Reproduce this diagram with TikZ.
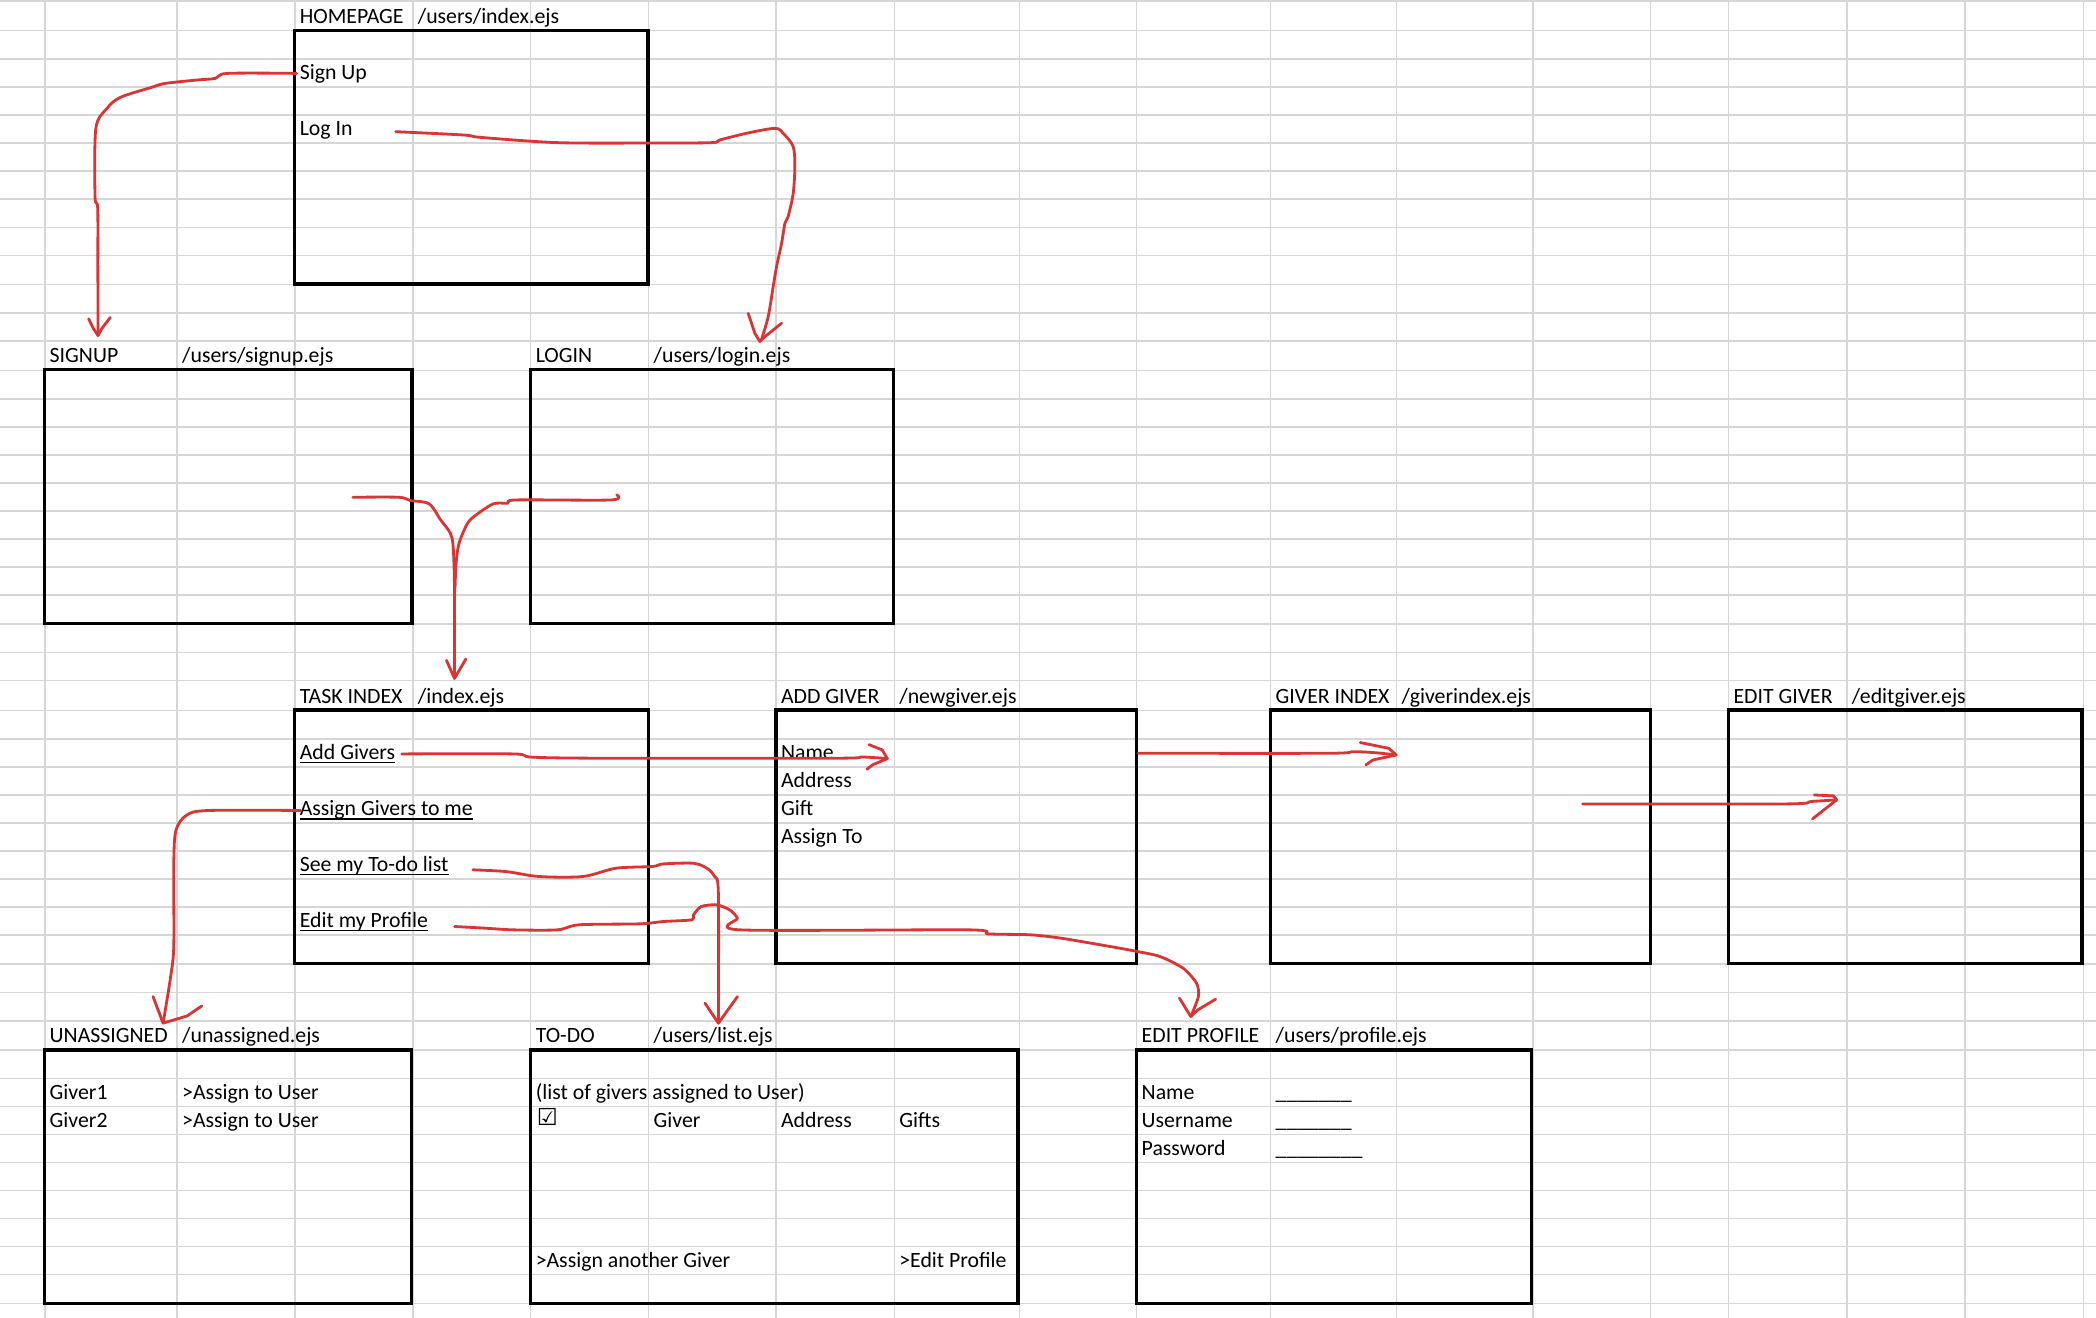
\documentclass[tikz,border=0pt]{standalone}
\usepackage{fontspec}
\setmainfont{Carlito}
\newfontfamily\symfont{DejaVu Sans}
\definecolor{gridgray}{RGB}{214,214,214}
\definecolor{penred}{RGB}{218,52,52}
\begin{document}
\begin{tikzpicture}[x=1pt,y=-1pt,
  pagebox/.style={draw=black, line width=2.4pt, anchor=north west, inner sep=0pt, outer sep=0pt},
  lbl/.style={anchor=base west, inner sep=0pt, outer sep=0pt, font=\fontsize{16.3}{19}\selectfont},
  ulink/.style={line width=1.1pt, black},
  conn/.style={draw=penred, line width=2.1pt, line cap=round, line join=round},
  tipstroke/.style={draw=penred, line width=2.1pt, line cap=round, line join=round}]
\useasboundingbox (0,0) rectangle (1568,985.9);
\fill[white] (0,0) rectangle (1568,985.9);
% grid
\foreach \gx in {33.5,132.5,220.6,308.8,397,485.2,580.5,669,762.5,850.3,950.5,1044.8,1146.8,1234.6,1293,1381.6,1470,1558.5}
  \draw[gridgray, line width=1.1pt] (\gx,0) -- (\gx,985.9);
\foreach \gy in {0.75,22.9,44.1,65.1,86,107,128,149,170,191,213,234,255,277.2,298.4,319.4,340.3,361.2,382.2,403.1,424.1,445,466.7,488.1,509.1,531.5,552.7,573.7,594.6,615.6,636.5,657.4,678.4,699.3,721,742.5,763.7,785.5,806.8,827.7,848.7,869.6,890.6,911.5,932.4,953.4,975.3}
  \draw[gridgray, line width=1.1pt] (0,\gy) -- (1568,\gy);

% page boxes
\node[pagebox, minimum width=264.2pt, minimum height=189.6pt] (home) at (220.6,22.9) {};
\node[pagebox, minimum width=275pt, minimum height=190pt] (signup) at (33.2,276.5) {};
\node[pagebox, minimum width=271.5pt, minimum height=190pt] (login) at (397,276.5) {};
\node[pagebox, minimum width=264.4pt, minimum height=189.6pt] (task) at (220.6,531.2) {};
\node[pagebox, minimum width=269.8pt, minimum height=189.6pt] (addg) at (580.5,531.2) {};
\node[pagebox, minimum width=284.3pt, minimum height=189.6pt] (gidx) at (950.2,531.2) {};
\node[pagebox, minimum width=264.5pt, minimum height=189.6pt] (editg) at (1293,531.2) {};
\node[pagebox, minimum width=274.6pt, minimum height=189.7pt] (unas) at (33.2,785.5) {};
\node[pagebox, minimum width=364.5pt, minimum height=189.7pt] (todo) at (397,785.5) {};
\node[pagebox, minimum width=295.5pt, minimum height=189.7pt] (prof) at (850.3,785.5) {};

% titles
\node[lbl] (tHome) at (224.3,17.3) {HOMEPAGE};
\node[lbl] (pHome) at (312.6,17.3) {/users/index.ejs};
\node[lbl] (tSignup) at (37.2,271.5) {SIGNUP};
\node[lbl] (pSignup) at (136.3,271.5) {/users/signup.ejs};
\node[lbl] (tLogin) at (400.8,271.5) {LOGIN};
\node[lbl] (pLogin) at (489,271.5) {/users/login.ejs};
\node[lbl] (tTask) at (224.3,526) {TASK INDEX};
\node[lbl] (pTask) at (312.6,526) {/index.ejs};
\node[lbl] (tAdd) at (584.3,526) {ADD GIVER};
\node[lbl] (pAdd) at (672.8,526) {/newgiver.ejs};
\node[lbl] (tGidx) at (954.3,526) {GIVER INDEX};
\node[lbl] (pGidx) at (1048.6,526) {/giverindex.ejs};
\node[lbl] (tEditg) at (1296.8,526) {EDIT GIVER};
\node[lbl] (pEditg) at (1385.4,526) {/editgiver.ejs};
\node[lbl] (tUnas) at (37.2,780) {UNASSIGNED};
\node[lbl] (pUnas) at (136.3,780) {/unassigned.ejs};
\node[lbl] (tTodo) at (400.8,780) {TO-DO};
\node[lbl] (pTodo) at (489,780) {/users/list.ejs};
\node[lbl] (tProf) at (854.1,780) {EDIT PROFILE};
\node[lbl] (pProf) at (954.3,780) {/users/profile.ejs};

% homepage content
\node[lbl] (signUp) at (224.3,59.5) {Sign Up};
\node[lbl] (logIn) at (224.3,101.5) {Log In};

% task index links
\node[lbl] (lnkAdd) at (224.3,568.2) {Add Givers};
\node[lbl] (lnkAssign) at (224.3,610.1) {Assign Givers to me};
\node[lbl] (lnkTodo) at (224.3,651.9) {See my To-do list};
\node[lbl] (lnkProf) at (224.3,693.8) {Edit my Profile};
\foreach \n in {lnkAdd,lnkAssign,lnkTodo,lnkProf}
  \draw[ulink] ([yshift=-2.4pt]\n.base west) -- ([yshift=-2.4pt]\n.base east);

% add giver fields
\node[lbl] (fName) at (584.3,568.2) {Name};
\node[lbl] (fAddr) at (584.3,589.1) {Address};
\node[lbl] (fGift) at (584.3,610.1) {Gift};
\node[lbl] (fAssign) at (584.3,631) {Assign To};

% unassigned
\node[lbl] (g1) at (37.2,822.2) {Giver1};
\node[lbl] (g1a) at (136.3,822.2) {>Assign to User};
\node[lbl] (g2) at (37.2,843.2) {Giver2};
\node[lbl] (g2a) at (136.3,843.2) {>Assign to User};

% to-do
\node[lbl] (listNote) at (400.8,822.2) {(list of givers assigned to User)};
\node[anchor=base west, inner sep=0pt, font=\symfont\fontsize{17.5}{20}\selectfont] (chk) at (401.5,842.2) {☑};
\node[lbl] (hGiver) at (489,843.2) {Giver};
\node[lbl] (hAddr) at (584.3,843.2) {Address};
\node[lbl] (hGifts) at (672.8,843.2) {Gifts};
\node[lbl] (assignAnother) at (400.8,947.9) {>Assign another Giver};
\node[lbl] (editProfLink) at (672.8,947.9) {>Edit Profile};

% edit profile
\node[lbl] (pfName) at (854.1,822.2) {Name};
\node[lbl] (pfUser) at (854.1,843.2) {Username};
\node[lbl] (pfPass) at (854.1,864.1) {Password};
\node[lbl] (uName) at (954.3,822.2) {\_\_\_\_\_\_\_};
\node[lbl] (uUser) at (954.3,843.2) {\_\_\_\_\_\_\_};
\node[lbl] (uPass) at (954.3,864.1) {\_\_\_\_\_\_\_\_};

% connector end points
\coordinate (a1s) at (221.9,54.9);   \coordinate (a1e) at (73.4,251);
\coordinate (a2s) at (296,98.5);     \coordinate (a2e) at (569.5,254.5);
\coordinate (a3s) at (264,372);      \coordinate (a3e) at (340,507.5);
\coordinate (a3t) at (461.4,370.2);  \coordinate (a3m) at (340.4,440);
\coordinate (a4s) at (300.6,564);    \coordinate (a4e) at (663.8,567.5);
\coordinate (a5s) at (225,606.3);    \coordinate (a5e) at (122,765.4);
\coordinate (a6s) at (353.8,650.7);  \coordinate (a6e) at (537.4,765.4);
\coordinate (a7s) at (340.1,693.1);  \coordinate (a7e) at (890.8,760.4);
\coordinate (a8s) at (851.3,563.5);  \coordinate (a8e) at (1044.5,564.8);
\coordinate (a9s) at (1183.9,601.4); \coordinate (a9e) at (1374,598.4);

% 1 Sign Up -> SIGNUP
\draw[conn] plot[smooth, tension=0.5] coordinates {(a1s) (170.2,54.9) (161.2,58.6) (146.8,59.9) (123.5,62.4) (113.5,65.3) (90.1,72.8) (80.1,81) (71.7,96) (71.1,147.1) (73.1,155.9) (73.2,200) (a1e)};
\draw[tipstroke] (66.3,238.5) -- (70,246) -- (a1e) -- (76,246) -- (82.5,237.5);

% 2 Log In -> LOGIN
\draw[conn] plot[smooth, tension=0.5] coordinates {(a2s) (347,101) (360,102.8) (417,106.7) (485,107) (532.3,106.7) (538.5,104.7) (558.5,99.7) (579.7,96) (585.9,99.7) (593.4,109.7) (594.6,124.7) (593.4,144.6) (589.6,162) (587.2,167) (584.7,182) (580.9,199.5) (578.4,214.4) (574.7,236.8) (a2e)};
\draw[tipstroke] (559.7,234.4) -- (564.7,249.3) -- (568.4,255.5) -- (572,252) -- (584.7,241.8);

% 3 SIGNUP / LOGIN -> TASK INDEX
\draw[conn] plot[smooth, tension=0.5] coordinates {(a3s) (298.3,372) (306.9,374.4) (321,376.9) (329.6,388.9) (336.9,398.9) (339,408.9) (340,440) (a3e)};
\draw[conn] plot[smooth, tension=0.5] coordinates {(a3t) (457.1,374) (386.3,374) (379.8,376.4) (369.1,376.9) (356.2,385.2) (349.8,391.4) (343.4,406.4) (341.2,421.3) (a3m)};
\draw[tipstroke] (334,494) -- (a3e) -- (348.5,493);

% 4 Add Givers -> ADD GIVER
\draw[conn] plot[smooth, tension=0.5] coordinates {(a4s) (384,564) (397.7,566.4) (449.9,567.2) (625.4,567.2) (645,566.3) (a4e)};
\draw[tipstroke] (650,557) -- (660,561) -- (a4e) -- (653,572) -- (648.5,575.5);

% 5 Assign Givers to me -> UNASSIGNED
\draw[conn] plot[smooth, tension=0.5] coordinates {(a5s) (156.4,606.3) (139.9,609.6) (131.7,620.8) (130,645.7) (130,708) (127.3,733) (a5e)};
\draw[tipstroke] (114.5,745.5) -- (a5e) -- (140,760) -- (151,752.5);

% 6 See my To-do list -> TO-DO
\draw[conn] plot[smooth, tension=0.5] coordinates {(a6s) (378.5,652) (403.2,655.7) (436.1,655.7) (460.8,649.5) (488.3,648.2) (495.9,646.3) (518.8,645.8) (528.8,649.5) (534.5,655.7) (537.4,668.2) (a6e)};
\draw[tipstroke] (527.4,750.5) -- (a6e) -- (551.7,745.5);

% 7 Edit my Profile -> EDIT PROFILE
\draw[conn] plot[smooth, tension=0.45] coordinates {(a7s) (362.1,694.3) (384,695.6) (417,695.6) (433.4,691.8) (478.7,691.1) (495.9,689.4) (517.3,688.1) (518.8,684.4) (524.5,678.2) (536,676.9) (546,680.7) (551.7,686.9) (553.7,695.6) (724.8,695.6) (739.1,698.6) (770.6,699.3) (793.5,701.8) (830.7,708.1) (850.8,711.8) (867.9,715.6) (885.1,724.3) (895.1,735.5) (896.5,745.5) (a7e)};
\draw[tipstroke] (882.3,746.7) -- (a7e) -- (896,755.5) -- (909.4,747.5);

% 8 ADD GIVER -> GIVER INDEX
\draw[conn] plot[smooth, tension=0.5] coordinates {(a8s) (993.8,563.5) (1012.8,562.3) (1030,563.2) (a8e)};
\draw[tipstroke] (1017.6,555.5) -- (1039,559.8) -- (a8e) -- (1027.1,568.5) -- (1021.8,572.2);

% 9 GIVER INDEX -> EDIT GIVER
\draw[conn] plot[smooth, tension=0.5] coordinates {(a9s) (1335.9,601.4) (1355,599.6) (a9e)};
\draw[tipstroke] (1357.3,594.7) -- (1371.6,595.4) -- (a9e) -- (1364.4,605.9) -- (1355.9,612.6);
\end{tikzpicture}
\end{document}
